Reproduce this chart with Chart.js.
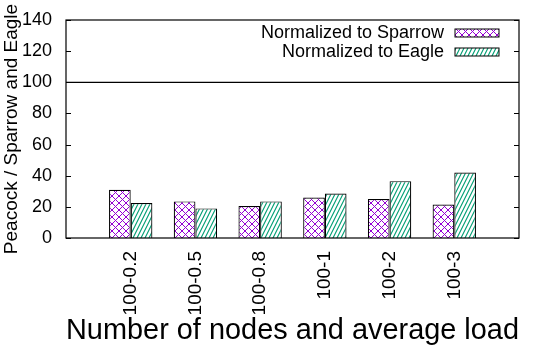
<!DOCTYPE html>
<html>
<head>
<meta charset="utf-8">
<script src="https://cdn.jsdelivr.net/npm/chart.js@4/dist/chart.umd.min.js"></script>
<style>
  html, body { margin: 0; padding: 0; background: #fff; }
</style>
</head>
<body>
<canvas id="chartPeacock" width="550" height="350"></canvas>
<script>
// Categorías del eje x (vacías en los extremos, como deja gnuplot)
const categorias = ['', '100-0.2', '100-0.5', '100-0.8', '100-1', '100-2', '100-3', ''];
// Valores
const normSparrow = [null, 31, 23.5, 20.5, 26, 25, 21.5, null];
const normEagle = [null, 22.5, 19, 23.5, 28.5, 36.5, 42, null];
const lineaReferencia = 100;
const ticksY = [0, 20, 40, 60, 80, 100, 120, 140];

const fuente = '"Liberation Sans", Arial, sans-serif';

// Patrones de relleno tipo gnuplot
const patronCruzado = (color) => {
    const c = document.createElement('canvas');
    c.width = 7; c.height = 7;
    const g = c.getContext('2d');
    g.fillStyle = '#fff';
    g.fillRect(0, 0, 7, 7);
    g.strokeStyle = color;
    g.lineWidth = 1;
    g.beginPath();
    g.moveTo(-1, -1); g.lineTo(8, 8);
    g.moveTo(-1, 8); g.lineTo(8, -1);
    g.stroke();
    return g.createPattern(c, 'repeat');
};

const patronRayas = (color) => {
    const c = document.createElement('canvas');
    c.width = 4; c.height = 8;
    const g = c.getContext('2d');
    g.fillStyle = '#fff';
    g.fillRect(0, 0, 4, 8);
    g.strokeStyle = color;
    g.lineWidth = 1.1;
    g.beginPath();
    [-4, 0, 4].forEach(dx => {
        g.moveTo(dx - 1, 10); g.lineTo(dx + 5, -2);
    });
    g.stroke();
    return g.createPattern(c, 'repeat');
};

// Marco completo, marcas interiores del eje y y leyenda dentro del área
const marcoGnuplot = {
    id: 'marcoGnuplot',
    afterDraw(chart) {
        const { ctx, chartArea: a, scales } = chart;
        ctx.save();
        ctx.strokeStyle = '#000';
        ctx.lineWidth = 1.2;
        ctx.strokeRect(a.left, a.top, a.width, a.height);
        ctx.beginPath();
        ticksY.forEach(v => {
            const py = Math.round(scales.y.getPixelForValue(v)) + 0.5;
            ctx.moveTo(a.left, py); ctx.lineTo(a.left + 5, py);
            ctx.moveTo(a.right, py); ctx.lineTo(a.right - 5, py);
        });
        ctx.stroke();

        ctx.font = '18px ' + fuente;
        ctx.textAlign = 'right';
        ctx.textBaseline = 'middle';
        chart.data.datasets.filter(d => d.type !== 'line').forEach((d, i) => {
            const y = a.top + 13 + i * 19;
            ctx.fillStyle = '#000';
            ctx.fillText(d.label, a.right - 75, y);
            ctx.fillStyle = d.backgroundColor;
            ctx.fillRect(a.right - 64, y - 4, 44, 8);
            ctx.lineWidth = 1;
            ctx.strokeRect(a.right - 64, y - 4, 44, 8);
        });
        ctx.restore();
    }
};

// Tamaños fijos de los ejes para que el área quede como en gnuplot
const sinPadding = (scale) => {
    scale.paddingLeft = 0;
    scale.paddingRight = 0;
    scale.paddingTop = 0;
    scale.paddingBottom = 0;
};

const canvas = document.getElementById('chartPeacock');
const ctx = canvas.getContext('2d');

Chart.defaults.color = '#000';
Chart.defaults.font.family = fuente;

const chartPeacock = new Chart(ctx, {
    type: 'bar',
    data: {
        labels: categorias,
        datasets: [
            {
                label: 'Normalized to Sparrow',
                data: normSparrow,
                backgroundColor: patronCruzado('#9400d3'),
                borderColor: '#000',
                borderWidth: 1.2,
                barPercentage: 1,
                categoryPercentage: 0.67
            },
            {
                label: 'Normalized to Eagle',
                data: normEagle,
                backgroundColor: patronRayas('#009e73'),
                borderColor: '#000',
                borderWidth: 1.2,
                barPercentage: 1,
                categoryPercentage: 0.67
            },
            {
                type: 'line',
                label: 'ref',
                data: categorias.map(() => lineaReferencia),
                borderColor: '#000',
                borderWidth: 1.2,
                pointRadius: 0,
                fill: false
            }
        ]
    },
    options: {
        responsive: false,
        animation: false,
        layout: { padding: { left: 2, right: 31, top: 20, bottom: 5 } },
        plugins: {
            legend: { display: false },
            tooltip: { enabled: false }
        },
        scales: {
            x: {
                offset: false,
                grid: { display: false, drawTicks: false },
                border: { display: false },
                ticks: {
                    autoSkip: false,
                    minRotation: 90,
                    maxRotation: 90,
                    padding: 13,
                    font: { size: 19 }
                },
                title: {
                    display: true,
                    text: 'Number of nodes and average load',
                    font: { size: 29, lineHeight: 1 },
                    padding: 0
                },
                afterFit: (scale) => {
                    scale.height = 107;
                    sinPadding(scale);
                }
            },
            y: {
                min: ticksY[0],
                max: ticksY[ticksY.length - 1],
                grid: { display: false, drawTicks: false },
                border: { display: false },
                ticks: {
                    stepSize: 20,
                    padding: 14,
                    font: { size: 18 }
                },
                title: {
                    display: true,
                    text: 'Peacock / Sparrow and Eagle',
                    font: { size: 19, lineHeight: 1 },
                    padding: 0
                },
                afterFit: (scale) => {
                    scale.width = 64;
                    sinPadding(scale);
                }
            }
        }
    },
    plugins: [marcoGnuplot]
});
</script>
</body>
</html>
